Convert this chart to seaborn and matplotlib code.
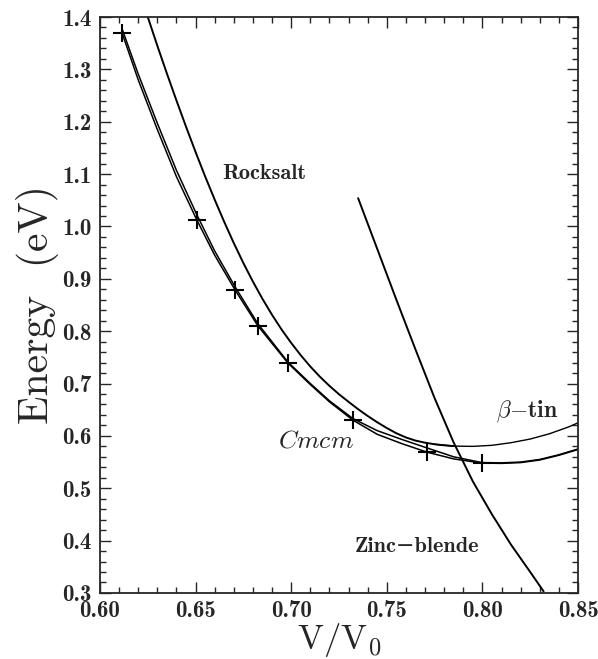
import matplotlib
matplotlib.use('Agg')
import matplotlib.pyplot as plt
import seaborn as sns
import numpy as np
import pandas as pd
from matplotlib.ticker import MultipleLocator

# values
cmcm_x = [0.6115, 0.620, 0.630, 0.640, 0.6507, 0.660, 0.6706, 0.6826, 0.6983, 0.710, 0.720,
          0.7323, 0.745, 0.758, 0.771, 0.785, 0.7998, 0.810, 0.820, 0.830, 0.840, 0.850]
cmcm_lower = [1.370, 1.280, 1.185, 1.095, 1.012, 0.945, 0.879, 0.810, 0.739, 0.698, 0.665,
              0.630, 0.603, 0.585, 0.569, 0.556, 0.548, 0.5475, 0.549, 0.554, 0.563, 0.574]
cmcm_upper = [1.378, 1.291, 1.197, 1.107, 1.022, 0.953, 0.885, 0.814, 0.741, 0.700, 0.667,
              0.633, 0.610, 0.593, 0.577, 0.560, 0.549, 0.5485, 0.550, 0.555, 0.564, 0.575]
cmcm_pts_x = [0.6115, 0.6507, 0.6706, 0.6826, 0.6983, 0.7323, 0.7710, 0.7998]
cmcm_pts_y = [1.370, 1.012, 0.879, 0.810, 0.739, 0.630, 0.569, 0.548]

rock_x = [0.625, 0.630, 0.635, 0.640, 0.645, 0.650, 0.655, 0.660, 0.665, 0.670, 0.675,
          0.680, 0.685, 0.690, 0.695, 0.700, 0.705, 0.710, 0.715, 0.720, 0.725, 0.730,
          0.735, 0.740, 0.745, 0.750, 0.755, 0.760, 0.765, 0.770, 0.775, 0.780, 0.785]
rock_y = [1.400, 1.345, 1.292, 1.2405, 1.1905, 1.142, 1.0955, 1.051, 1.0085, 0.968, 0.930,
          0.8945, 0.8615, 0.831, 0.803, 0.7775, 0.754, 0.7325, 0.713, 0.6955, 0.6795, 0.665,
          0.651, 0.638, 0.626, 0.615, 0.605, 0.597, 0.591, 0.587, 0.584, 0.582, 0.5805]

btin_x = [0.775, 0.785, 0.795, 0.805, 0.815, 0.825, 0.835, 0.845, 0.850]
btin_y = [0.584, 0.5805, 0.580, 0.582, 0.587, 0.594, 0.604, 0.617, 0.625]

zb_x = [0.735, 0.745, 0.755, 0.765, 0.775, 0.785, 0.795, 0.805, 0.815, 0.825, 0.832]
zb_y = [1.054, 0.957, 0.860, 0.765, 0.672, 0.587, 0.513, 0.450, 0.392, 0.340, 0.303]

sns.set_style('ticks')
plt.rcParams['mathtext.fontset'] = 'cm'
plt.rcParams['axes.linewidth'] = 1.3

fig = plt.figure(figsize=(5.98, 6.59), dpi=100)
ax = fig.add_axes([0.1672, 0.1002, 0.7994, 0.874])

sns.lineplot(x=cmcm_x, y=cmcm_lower, color='black', lw=1.1, sort=False, estimator=None, ax=ax)
sns.lineplot(x=cmcm_x, y=cmcm_upper, color='black', lw=1.1, sort=False, estimator=None, ax=ax)
sns.lineplot(x=rock_x, y=rock_y, color='black', lw=1.4, sort=False, estimator=None, ax=ax)
sns.lineplot(x=btin_x, y=btin_y, color='black', lw=1.0, sort=False, estimator=None, ax=ax)
sns.lineplot(x=zb_x, y=zb_y, color='black', lw=1.4, sort=False, estimator=None, ax=ax)
sns.scatterplot(x=cmcm_pts_x, y=cmcm_pts_y, marker='+', s=170, color='black',
                linewidth=1.5, ax=ax, zorder=5)

ax.set_xlim(0.60, 0.85)
ax.set_ylim(0.3, 1.4)
ax.xaxis.set_major_locator(MultipleLocator(0.05))
ax.xaxis.set_minor_locator(MultipleLocator(0.01))
ax.yaxis.set_major_locator(MultipleLocator(0.1))
ax.yaxis.set_minor_locator(MultipleLocator(0.02))
ax.xaxis.set_major_formatter(matplotlib.ticker.FormatStrFormatter('%.2f'))
ax.yaxis.set_major_formatter(matplotlib.ticker.FormatStrFormatter('%.1f'))
ax.tick_params(which='both', direction='in', top=True, right=True, width=1.0)
ax.tick_params(which='major', length=8)
ax.tick_params(which='minor', length=4.5)
ax.tick_params(axis='x', pad=5)
ax.tick_params(axis='y', pad=6)
for lab in ax.get_xticklabels() + ax.get_yticklabels():
    lab.set_fontfamily(['cmb10', 'DejaVu Serif'])
    lab.set_fontsize(16.5)

ax.set_xlabel(r'$\mathrm{V/V_0}$', fontsize=25, labelpad=-1)
ax.set_ylabel('Energy  (eV)', fontsize=30, family=['cmr10', 'DejaVu Serif'], labelpad=2)

lab_font = dict(fontsize=16, family=['cmb10', 'DejaVu Serif'])
ax.text(0.664, 1.102, 'Rocksalt', ha='left', va='center', **lab_font)
ax.text(0.713, 0.592, r'$Cmcm$', ha='center', va='center', fontsize=18.5)
ax.text(0.8233, 0.648, r'$\beta\mathbf{-}\mathbf{tin}$', ha='center', va='center', fontsize=17)
ax.text(0.733, 0.388, 'Zinc\u2212blende', ha='left', va='center', **lab_font)

sns.despine(ax=ax, top=False, right=False)
fig.savefig('out.png', dpi=100)
